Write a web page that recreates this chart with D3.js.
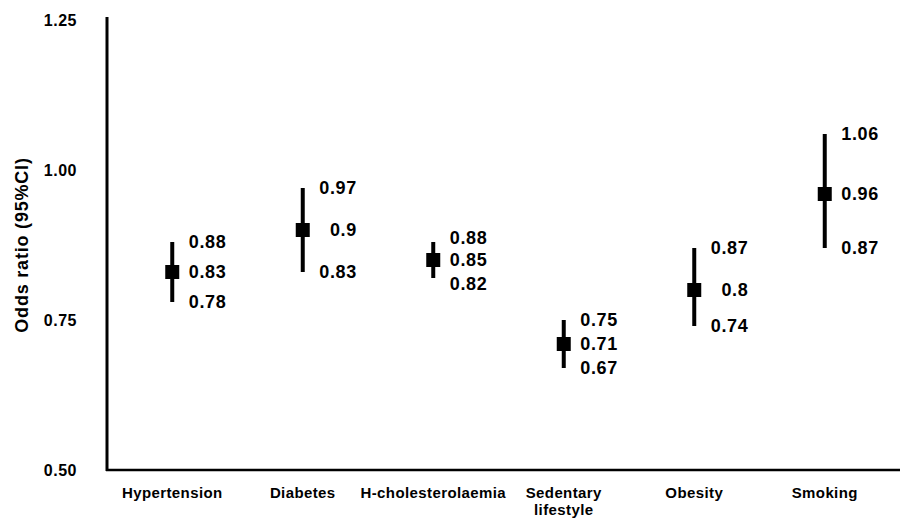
<!DOCTYPE html>
<meta charset="utf-8">
<style>
body { margin: 0; background: #fff; }
text { font-family: "Liberation Sans", Arial, Helvetica, sans-serif; fill: #000; }
</style>
<svg width="901" height="526"></svg>
<script src="https://d3js.org/d3.v7.min.js"></script>
<script>
// factors and their odds ratios with 95% CI
var factors = ["Hypertension", "Diabetes", "H-cholesterolaemia", "Sedentary lifestyle", "Obesity", "Smoking"];
var oddsRatio = [0.83, 0.9, 0.85, 0.71, 0.8, 0.96];
var ciLow = [0.78, 0.83, 0.82, 0.67, 0.74, 0.87];
var ciHigh = [0.88, 0.97, 0.88, 0.75, 0.87, 1.06];
var yTicks = [0.5, 0.75, 1.0, 1.25];

var svg = d3.select("svg");
var mLeft = 107, mRight = 890, mTop = 20, mBottom = 470;

var x = d3.scaleBand().domain(factors).range([mLeft, mRight]);
var y = d3.scaleLinear().domain([0.5, 1.25]).range([mBottom, mTop]);

// axes lines
svg.append("line")
  .attr("x1", mLeft).attr("x2", mLeft)
  .attr("y1", 17).attr("y2", mBottom + 1)
  .attr("stroke", "#000").attr("stroke-width", 3);
svg.append("line")
  .attr("x1", mLeft - 1).attr("x2", 900)
  .attr("y1", mBottom).attr("y2", mBottom)
  .attr("stroke", "#000").attr("stroke-width", 2.5);

// y tick labels
svg.append("g").selectAll("text")
  .data(yTicks)
  .enter().append("text")
  .attr("x", 77)
  .attr("y", function(d) { return y(d); })
  .attr("dy", "0.35em")
  .attr("text-anchor", "end")
  .style("font-size", "16px")
  .style("font-weight", "bold")
  .style("letter-spacing", "0.5px")
  .text(function(d) { return d3.format(".2f")(d); });

svg.append("text")
  .attr("transform", "translate(28," + 245 + ")rotate(-90)")
  .attr("text-anchor", "middle")
  .style("font-size", "18px")
  .style("font-weight", "bold")
  .style("letter-spacing", "0.8px")
  .text("Odds ratio (95%CI)");

// category labels
svg.append("g").selectAll("text")
  .data(factors)
  .enter().append("text")
  .attr("text-anchor", "middle")
  .attr("x", function(d) { return x(d) + x.bandwidth() / 2; })
  .attr("y", 498)
  .style("font-size", "15px")
  .style("font-weight", "bold")
  .style("letter-spacing", "0.4px")
  .each(function(d) {
    var words = d === "Sedentary lifestyle" ? ["Sedentary", "lifestyle"] : [d];
    var t = d3.select(this);
    words.forEach(function(w, i) {
      t.append("tspan")
        .attr("x", x(d) + x.bandwidth() / 2)
        .attr("dy", i === 0 ? 0 : "1.1em")
        .text(w);
    });
  });

var rows = factors.map(function(f, i) {
  return { f: f, or: oddsRatio[i], lo: ciLow[i], hi: ciHigh[i] };
});

var g = svg.append("g").selectAll("g")
  .data(rows)
  .enter().append("g")
  .attr("transform", function(d) { return "translate(" + (x(d.f) + x.bandwidth() / 2) + ",0)"; });

g.append("line")
  .attr("y1", function(d) { return y(d.hi); })
  .attr("y2", function(d) { return y(d.lo); })
  .attr("stroke", "#000")
  .attr("stroke-width", 4);

g.append("rect")
  .attr("x", -7)
  .attr("y", function(d) { return y(d.or) - 7; })
  .attr("width", 14)
  .attr("height", 14)
  .attr("fill", "#000");

var fs = "18px";
g.append("text")
  .attr("x", 54)
  .attr("y", function(d) { return Math.min(y(d.hi), y(d.or) - 22); })
  .attr("dy", "0.35em")
  .attr("text-anchor", "end")
  .style("font-size", fs)
  .style("font-weight", "bold")
  .style("letter-spacing", "0.6px")
  .text(function(d) { return d.hi; });

g.append("text")
  .attr("x", 54)
  .attr("y", function(d) { return y(d.or); })
  .attr("dy", "0.35em")
  .attr("text-anchor", "end")
  .style("font-size", fs)
  .style("font-weight", "bold")
  .style("letter-spacing", "0.6px")
  .text(function(d) { return d.or; });

g.append("text")
  .attr("x", 54)
  .attr("y", function(d) { return Math.max(y(d.lo), y(d.or) + 24); })
  .attr("dy", "0.35em")
  .attr("text-anchor", "end")
  .style("font-size", fs)
  .style("font-weight", "bold")
  .style("letter-spacing", "0.6px")
  .text(function(d) { return d.lo; });
</script>
